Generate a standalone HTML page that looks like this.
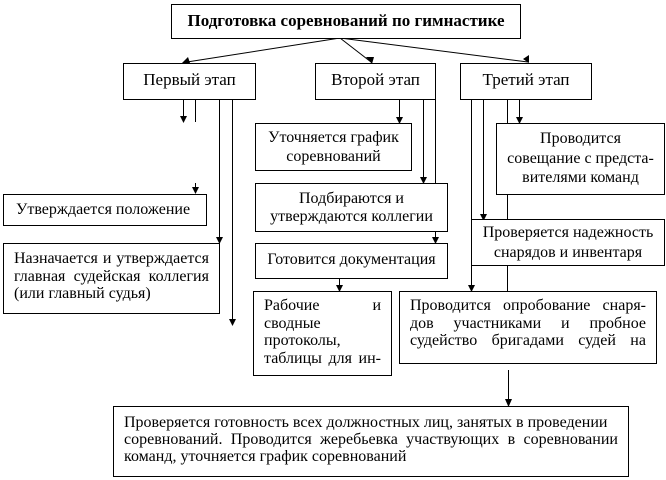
<!DOCTYPE html>
<html><head><meta charset="utf-8"><style>
body{margin:0;width:666px;height:480px;background:#fff;position:relative;overflow:hidden;font-family:"Liberation Serif","DejaVu Serif",serif;font-size:16px;color:#000}
.b{position:absolute;border:1px solid #000;box-sizing:border-box;background:#fff}
.c{text-align:center}
.j{display:flex;justify-content:space-between;white-space:nowrap;line-height:17.5px}
svg{position:absolute;left:0;top:0}
</style></head><body>
<svg width="666" height="480">
<g stroke="#000" stroke-width="1" fill="none">
<line x1="340" y1="38" x2="187" y2="62"/>
<line x1="340" y1="38" x2="371" y2="62"/>
<line x1="340" y1="38" x2="528" y2="62"/>
<line x1="183.5" y1="99" x2="183.5" y2="122"/>
<line x1="195.5" y1="99" x2="195.5" y2="122"/>
<line x1="195.5" y1="183" x2="195.5" y2="193"/>
<line x1="219.5" y1="99" x2="219.5" y2="243"/>
<line x1="232.5" y1="99" x2="232.5" y2="325"/>
<line x1="399.5" y1="99" x2="399.5" y2="123"/>
<line x1="423.5" y1="99" x2="423.5" y2="183"/>
<line x1="435.5" y1="99" x2="435.5" y2="183"/>
<line x1="435.5" y1="231" x2="435.5" y2="243"/>
<line x1="339.5" y1="278" x2="339.5" y2="291"/>
<line x1="471.5" y1="99" x2="471.5" y2="291"/>
<line x1="483.5" y1="99" x2="483.5" y2="220"/>
<line x1="507.5" y1="99" x2="507.5" y2="123"/>
<line x1="519.5" y1="99" x2="519.5" y2="123"/>
<line x1="507.5" y1="194" x2="507.5" y2="219"/>
<line x1="507.5" y1="265" x2="507.5" y2="291"/>
<line x1="508.5" y1="370" x2="508.5" y2="405"/>
</g>
<g fill="#000">
<path d="M182,63 l6,-6 l2,6z"/>
<path d="M366,57 l8,0 l-2,7z"/>
<path d="M523,59 l6,-4 l0,8z"/>
<path d="M180,116 h7 l-3.5,7z"/>
<path d="M192,187 h7 l-3.5,7z"/>
<path d="M216,237 h7 l-3.5,7z"/>
<path d="M229,319 h7 l-3.5,7z"/>
<path d="M396,117 h7 l-3.5,7z"/>
<path d="M420,177 h7 l-3.5,7z"/>
<path d="M432,237 h7 l-3.5,7z"/>
<path d="M336,285 h7 l-3.5,7z"/>
<path d="M468,285 h7 l-3.5,7z"/>
<path d="M480,214 h7 l-3.5,7z"/>
<path d="M516,117 h7 l-3.5,7z"/>
<path d="M505,399 h7 l-3.5,8z"/>
</g>
</svg>
<div class="b c" style="left:171px;top:4px;width:350px;height:35px;line-height:31px;font-weight:bold;font-size:17px">Подготовка соревнований по гимнастике</div>
<div class="b c" style="left:123px;top:63px;width:133px;height:37px;line-height:32px;font-size:17px">Первый этап</div>
<div class="b c" style="left:315px;top:63px;width:121px;height:37px;line-height:32px;font-size:17px">Второй этап</div>
<div class="b c" style="left:460px;top:63px;width:132px;height:37px;line-height:32px;font-size:17px">Третий этап</div>
<div class="b c" style="left:255px;top:123px;width:157px;height:48px;padding-top:4px;line-height:19px">Уточняется график<br>соревнований</div>
<div class="b c" style="left:496px;top:123px;width:169px;height:72px;padding-top:5px;line-height:19.5px">Проводится<br>совещание с предста-<br>вителями команд</div>
<div class="b" style="left:3px;top:194px;width:204px;height:32px;padding-left:12px;line-height:29px">Утверждается положение</div>
<div class="b c" style="left:255px;top:183px;width:193px;height:49px;padding-top:6px;line-height:18px">Подбираются и<br>утверждаются коллегии</div>
<div class="b c" style="left:471px;top:219px;width:194px;height:47px;padding-top:3px;line-height:20px">Проверяется надежность<br>снарядов и инвентаря</div>
<div class="b" style="left:3px;top:243px;width:217px;height:71px;padding:6px 10px 0 10px">
<div class="j"><span>Назначается</span><span>и</span><span>утверждается</span></div>
<div class="j"><span>главная</span><span>судейская</span><span>коллегия</span></div>
<div style="line-height:17.5px">(или главный судья)</div></div>
<div class="b c" style="left:255px;top:243px;width:193px;height:36px;line-height:32px">Готовится документация</div>
<div class="b" style="left:253px;top:291px;width:139px;height:85px;padding:5px 10px 0 10px;overflow:hidden">
<div class="j"><span>Рабочие</span><span>и</span></div>
<div class="j"><span>сводные</span></div>
<div class="j"><span>протоколы,</span></div>
<div class="j"><span>таблицы</span><span>для</span><span>ин-</span></div></div>
<div class="b" style="left:399px;top:291px;width:258px;height:73px;padding:5px 10px 0 10px;overflow:hidden">
<div class="j"><span>Проводится</span><span>опробование</span><span>снаря-</span></div>
<div class="j"><span>дов</span><span>участниками</span><span>и</span><span>пробное</span></div>
<div class="j"><span>судейство</span><span>бригадами</span><span>судей</span><span>на</span></div></div>
<div class="b" style="left:113px;top:406px;width:516px;height:71px;padding:7px 10px 0 10px">
<div class="j" style="line-height:17px"><span>Проверяется готовность всех должностных лиц, занятых в проведении</span></div>
<div class="j" style="line-height:17px"><span>соревнований.</span><span>Проводится</span><span>жеребьевка</span><span>участвующих</span><span>в</span><span>соревновании</span></div>
<div style="line-height:17px">команд, уточняется график соревнований</div></div>
</body></html>
